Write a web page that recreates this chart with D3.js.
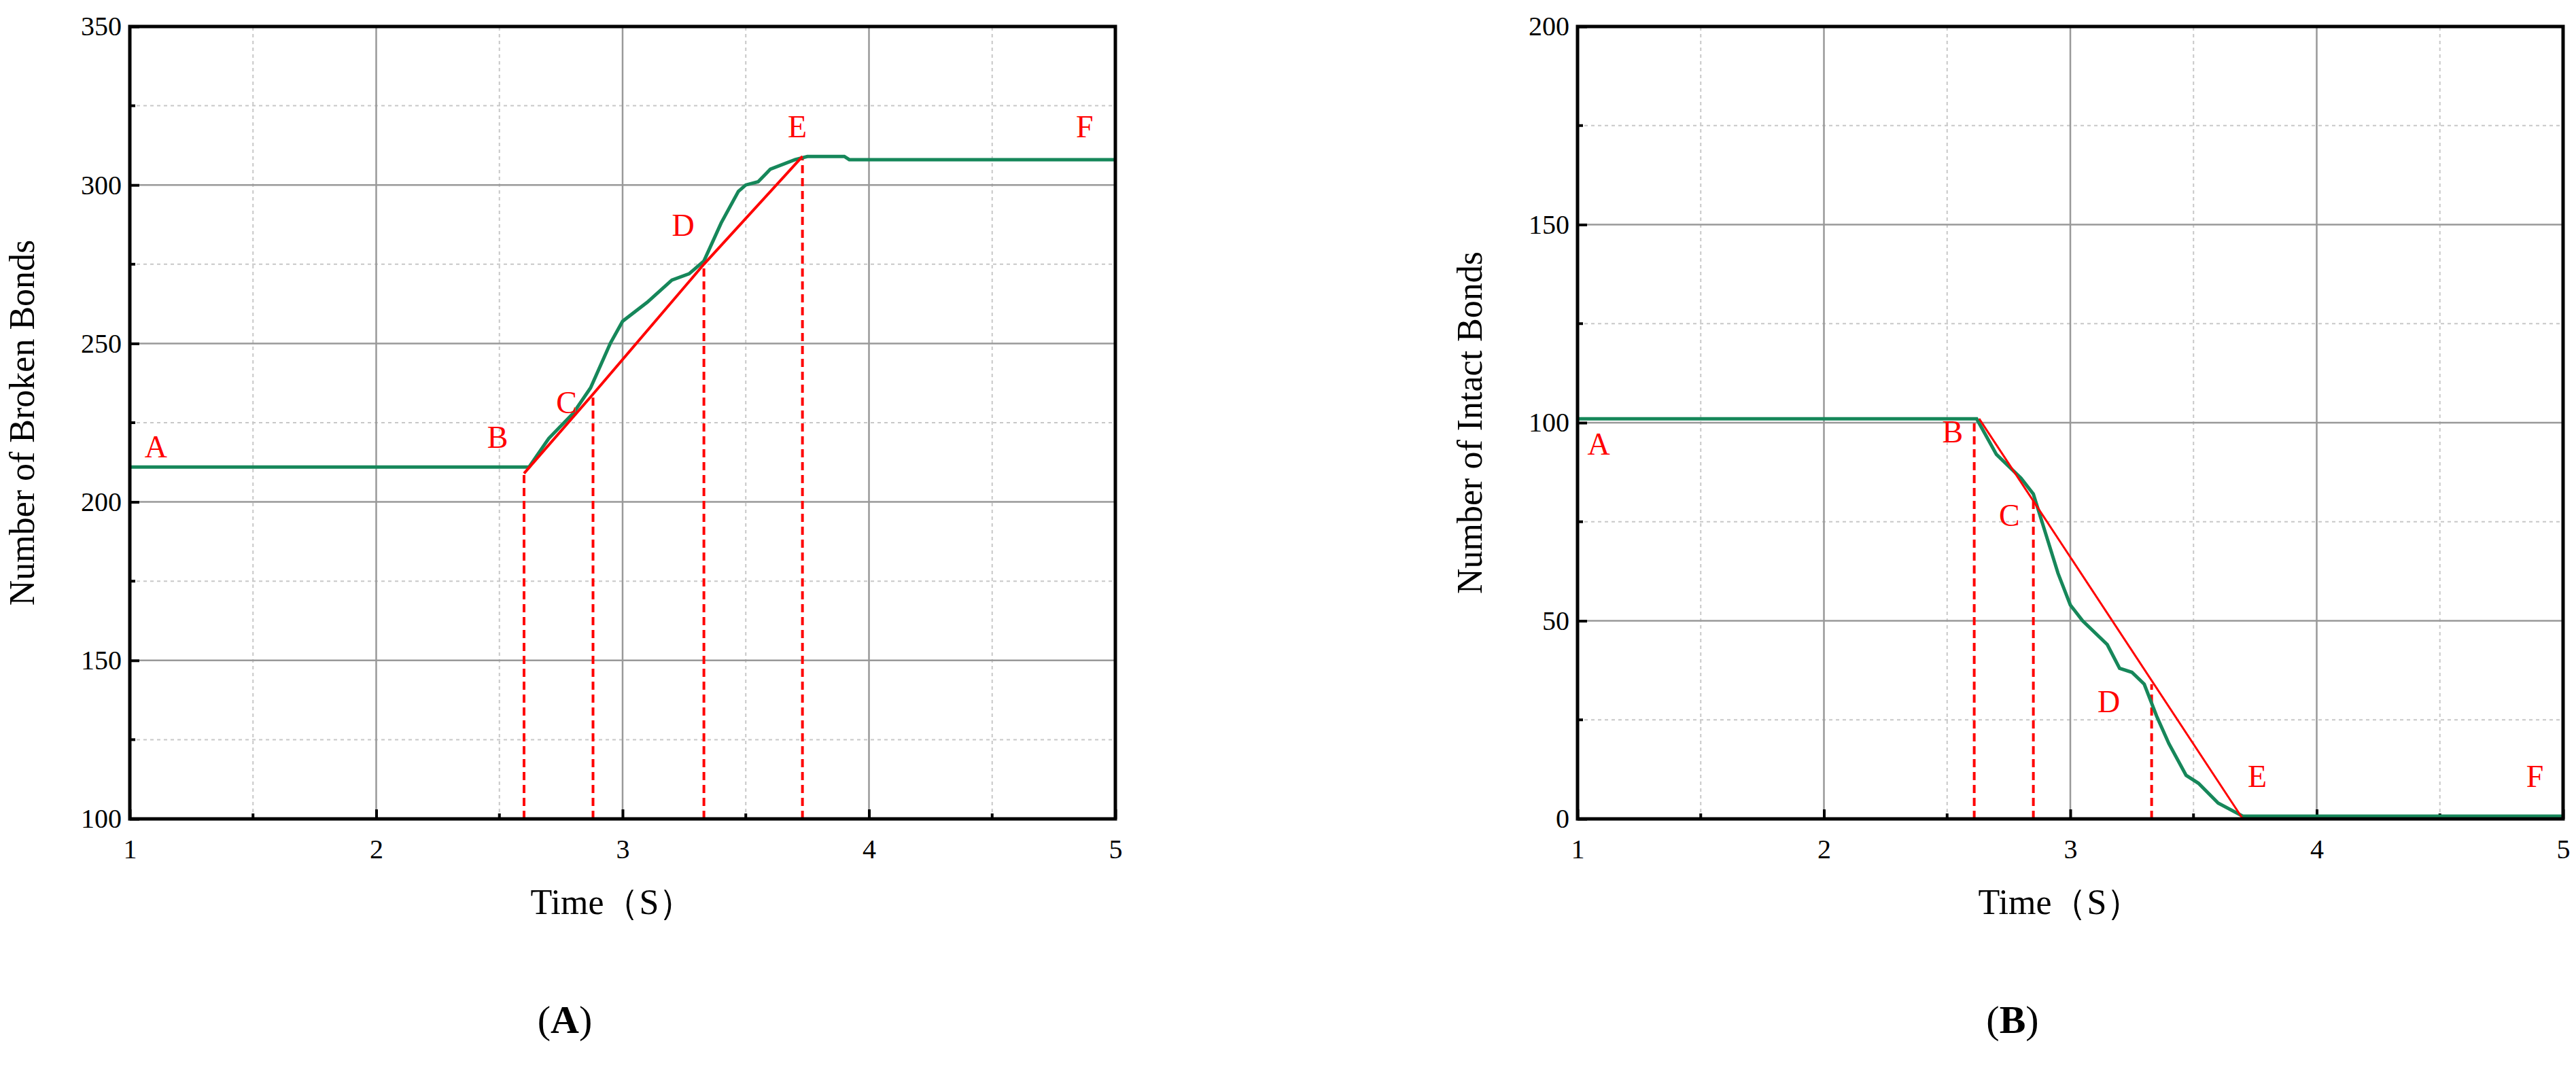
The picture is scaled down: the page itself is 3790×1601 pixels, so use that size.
<!DOCTYPE html>
<html><head><meta charset="utf-8">
<script src="https://cdn.jsdelivr.net/npm/d3@7"></script>
<style>body{margin:0;background:#fff}</style>
</head><body>
<svg id="chart" width="3790" height="1601"></svg>
<script>
// panel A: broken bonds
var brokenT = [1, 2.6, 2.62, 2.7, 2.8, 2.87, 2.95, 3.0, 3.1, 3.2, 3.27, 3.33, 3.4, 3.47, 3.5, 3.55, 3.6, 3.7, 3.75, 3.9, 3.92, 5];
var brokenN = [211, 211, 211, 220, 228, 236, 250, 257, 263, 270, 272, 276, 288, 298, 300, 301, 305, 308, 309, 309, 308, 308];
var brokenFitT = [2.6, 2.88, 3.33, 3.73];
var brokenFitN = [209, 234, 275, 309];
var brokenLabels = [["A", 1.06, 214], ["B", 2.45, 217], ["C", 2.73, 228], ["D", 3.2, 284], ["E", 3.67, 315], ["F", 4.84, 315]];

// panel B: intact bonds
var intactT = [1, 2.62, 2.7, 2.8, 2.85, 2.9, 2.95, 3.0, 3.05, 3.15, 3.2, 3.25, 3.3, 3.35, 3.4, 3.47, 3.52, 3.6, 3.7, 5];
var intactN = [101, 101, 92, 86, 82, 72, 62, 54, 50, 44, 38, 37, 34, 26, 19, 11, 9, 4, 0.7, 0.7];
var intactFitT = [2.63, 3.7];
var intactFitN = [101, 0];
var intactDashT = [2.61, 2.85, 3.33];
var intactDashN = [101, 81, 34];
var intactLabels = [["A", 1.04, 92], ["B", 2.48, 95], ["C", 2.71, 74], ["D", 3.11, 27], ["E", 3.72, 8], ["F", 4.85, 8]];

var svg = d3.select("#chart");
var serif = "Liberation Serif, Times New Roman, serif";

function panel(o) {
  var x = d3.scaleLinear().domain([1, 5]).range([o.left, o.left + 1450]);
  var y = d3.scaleLinear().domain(o.ydom).range([1205, 39]);
  var g = svg.append("g");

  // minor dashed grid
  d3.range(1.5, 5, 1).forEach(function(v) {
    g.append("line").attr("x1", x(v)).attr("x2", x(v)).attr("y1", y.range()[0]).attr("y2", y.range()[1])
      .attr("stroke", "#c8c8c8").attr("stroke-width", 2).attr("stroke-dasharray", "5,5");
  });
  o.yminor.forEach(function(v) {
    g.append("line").attr("x1", x(1)).attr("x2", x(5)).attr("y1", y(v)).attr("y2", y(v))
      .attr("stroke", "#c8c8c8").attr("stroke-width", 2).attr("stroke-dasharray", "5,5");
  });
  // major grid
  [2, 3, 4].forEach(function(v) {
    g.append("line").attr("x1", x(v)).attr("x2", x(v)).attr("y1", y.range()[0]).attr("y2", y.range()[1])
      .attr("stroke", "#999").attr("stroke-width", 2.5);
  });
  o.ymajor.slice(1, -1).forEach(function(v) {
    g.append("line").attr("x1", x(1)).attr("x2", x(5)).attr("y1", y(v)).attr("y2", y(v))
      .attr("stroke", "#999").attr("stroke-width", 2.5);
  });

  // axes
  var xa = g.append("g").attr("transform", "translate(0," + y.range()[0] + ")")
    .call(d3.axisBottom(x).tickValues([1, 2, 3, 4, 5]).tickSize(-14).tickPadding(30).tickFormat(d3.format("d")));
  var ya = g.append("g").attr("transform", "translate(" + x(1) + ",0)")
    .call(d3.axisLeft(y).tickValues(o.ymajor).tickSize(-14).tickPadding(12).tickFormat(d3.format("d")));
  [xa, ya].forEach(function(a) {
    a.select(".domain").remove();
    a.selectAll("line").attr("stroke", "#000").attr("stroke-width", 4);
    a.selectAll("text").attr("font-family", serif).attr("font-size", 40).attr("fill", "#000");
  });
  g.selectAll(".minorx").data([1.5, 2.5, 3.5, 4.5]).enter().append("line")
    .attr("x1", function(d) { return x(d); }).attr("x2", function(d) { return x(d); })
    .attr("y1", y.range()[0]).attr("y2", y.range()[0] - 8).attr("stroke", "#000").attr("stroke-width", 4);
  g.selectAll(".minory").data(o.yminor).enter().append("line")
    .attr("x1", x(1)).attr("x2", x(1) + 8)
    .attr("y1", function(d) { return y(d); }).attr("y2", function(d) { return y(d); })
    .attr("stroke", "#000").attr("stroke-width", 4);

  // dashed drop lines
  o.dashT.forEach(function(t, i) {
    g.append("line").attr("x1", x(t)).attr("x2", x(t)).attr("y1", y.range()[0]).attr("y2", y(o.dashN[i]))
      .attr("stroke", "#f00").attr("stroke-width", 4).attr("stroke-dasharray", "12,7");
  });

  var line = d3.line().x(function(d) { return x(d[0]); }).y(function(d) { return y(d[1]); });
  g.append("path").datum(d3.zip(o.t, o.n)).attr("d", line)
    .attr("fill", "none").attr("stroke", "#16875a").attr("stroke-width", 5);
  g.append("path").datum(d3.zip(o.fitT, o.fitN)).attr("d", line)
    .attr("fill", "none").attr("stroke", "#f00").attr("stroke-width", o.fitW);

  o.labels.forEach(function(l) {
    g.append("text").attr("x", x(l[1])).attr("y", y(l[2])).text(l[0])
      .attr("font-family", serif).attr("font-size", 46).attr("fill", "#f00");
  });

  // frame
  g.append("rect").attr("x", x(1)).attr("y", y.range()[1]).attr("width", x(5) - x(1)).attr("height", y.range()[0] - y.range()[1])
    .attr("fill", "none").attr("stroke", "#000").attr("stroke-width", 5);

  g.append("text").attr("x", (x(1) + x(5)) / 2 - 15).attr("y", 1345).attr("text-anchor", "middle")
    .attr("font-family", serif).attr("font-size", 52).text("Time（S）");
  g.append("text").attr("transform", "translate(" + o.ytitleX + "," + (y.range()[0] + y.range()[1]) / 2 + ") rotate(-90)")
    .attr("text-anchor", "middle").attr("font-family", serif).attr("font-size", 52).text(o.ytitle);
  g.append("text").attr("x", (x(1) + x(5)) / 2 - 85).attr("y", 1520).attr("text-anchor", "middle")
    .attr("font-family", serif).attr("font-size", 58).html("(<tspan font-weight='bold'>" + o.tag + "</tspan>)");
}

panel({left: 191, ydom: [100, 350], ymajor: [100, 150, 200, 250, 300, 350], yminor: [125, 175, 225, 275, 325],
  t: brokenT, n: brokenN, fitT: brokenFitT, fitN: brokenFitN, fitW: 4,
  dashT: brokenFitT, dashN: brokenFitN, labels: brokenLabels,
  ytitle: "Number of Broken Bonds", ytitleX: 50, tag: "A"});
panel({left: 2321, ydom: [0, 200], ymajor: [0, 50, 100, 150, 200], yminor: [25, 75, 125, 175],
  t: intactT, n: intactN, fitT: intactFitT, fitN: intactFitN, fitW: 3,
  dashT: intactDashT, dashN: intactDashN, labels: intactLabels,
  ytitle: "Number of Intact Bonds", ytitleX: 2180, tag: "B"});
</script>
</body></html>
